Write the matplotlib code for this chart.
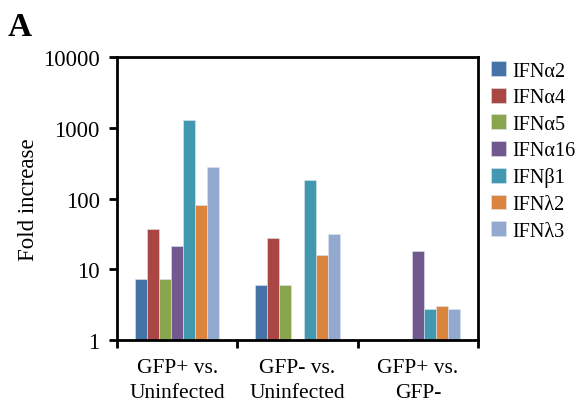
import numpy as np
import matplotlib
matplotlib.use("Agg")
import matplotlib.pyplot as plt

plt.rcParams['font.family'] = ['Liberation Serif', 'DejaVu Serif']

# --- data ---
groups = ["GFP+ vs.\nUninfected", "GFP- vs.\nUninfected", "GFP+ vs.\nGFP-"]
genes = ["IFN\u03b12", "IFN\u03b14", "IFN\u03b15", "IFN\u03b116",
         "IFN\u03b21", "IFN\u03bb2", "IFN\u03bb3"]
nan = np.nan
ifna2 = [7.4, 6.0, nan]
ifna4 = [37, 28, nan]
ifna5 = [7.3, 6.0, nan]
ifna16 = [21, nan, 18]
ifnb1 = [1300, 180, 2.7]
ifnl2 = [80, 16, 3.0]
ifnl3 = [280, 32, 2.7]
values = [ifna2, ifna4, ifna5, ifna16, ifnb1, ifnl2, ifnl3]
colors = ["#4572A7", "#AA4643", "#89A54E", "#71588F",
          "#4198AF", "#DB843D", "#93A9CF"]

fig = plt.figure(figsize=(5.86, 4.06), dpi=100)
ax = fig.add_axes([117/586, 1 - 341/406, (478-117)/586, (341-58)/406])

x = np.arange(len(groups))
w = 0.1
for i, (g, v, c) in enumerate(zip(genes, values, colors)):
    ax.bar(x + (i - 3) * w, v, width=w, color=c, label=g,
           edgecolor="#dde6f0", linewidth=0.4)

ax.set_yscale("log")
ax.set_ylim(1, 10000)
ax.set_xlim(-0.5, 2.5)
ax.set_yticks([1, 10, 100, 1000, 10000])
ax.set_yticklabels(["1", "10", "100", "1000", "10000"])
ax.yaxis.set_minor_locator(matplotlib.ticker.NullLocator())

ax.set_xticks([-0.5, 0.5, 1.5, 2.5])
ax.set_xticklabels([])
ax.set_xticks(x, minor=True)
ax.set_xticklabels(groups, minor=True, linespacing=1.4)
ax.tick_params(axis="x", which="minor", length=0, pad=13, labelsize=15.5)
ax.tick_params(axis="x", which="major", length=6, width=2, direction="out")
ax.tick_params(axis="y", which="major", length=6, width=2, direction="out",
               labelsize=16.3, pad=6.5)
for s in ax.spines.values():
    s.set_linewidth(2)

ax.set_ylabel("Fold increase", fontsize=16.5, labelpad=3)

ax.legend(loc="upper left", bbox_to_anchor=(1.025, 1.0), frameon=False,
          fontsize=14.6, handlelength=0.75, handleheight=0.75,
          handletextpad=0.3, labelspacing=0.35, borderaxespad=0.0,
          borderpad=0.2)

fig.text(8/586, 1 - 36/406, "A", fontsize=24, fontweight="bold")

fig.savefig("out.png", dpi=100)
